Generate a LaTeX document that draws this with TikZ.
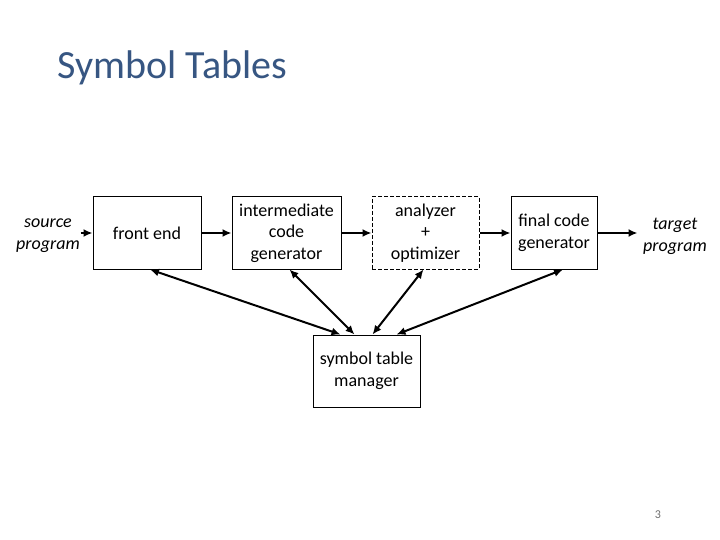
\documentclass[tikz,border=0pt]{standalone}
\usepackage{fontspec}
\setmainfont{Carlito}
\usetikzlibrary{arrows.meta}
\definecolor{titleblue}{RGB}{55,86,130}
\definecolor{pagegray}{RGB}{110,110,110}

\tikzset{
  stage/.style={draw, line width=1pt, minimum height=72pt, align=center,
    font=\fontsize{18}{21.5}\selectfont},
  ioname/.style={align=center, font=\fontsize{18}{22}\selectfont\itshape},
  flow/.style={line width=2pt, -{Latex[length=9pt,width=8pt]}},
  link/.style={line width=2pt, {Latex[length=9pt,width=8pt]}-{Latex[length=9pt,width=8pt]}}
}

\begin{document}
\begin{tikzpicture}[x=1pt, y=-1pt]

% Page
\useasboundingbox (0,0) rectangle (720,540);
\fill[white] (0,0) rectangle (720,540);

% Title
\node[anchor=west, text=titleblue, font=\fontsize{40}{46}\selectfont] (title) at (54,68) {Symbol Tables};

% Stages
\node[stage, minimum width=108pt] (front) at (147,233) {front end};
\node[stage, minimum width=109pt] (icg) at (286.5,233) {intermediate\\code\\generator};
\node[stage, minimum width=107pt, dashed, dash pattern=on 4pt off 2pt] (opt) at (425.5,233) {analyzer\\+\\optimizer};
\node[stage, minimum width=86pt] (fcg) at (554,233) {final code\\generator};
\node[stage, minimum width=107pt] (stm) at (366.5,371) {symbol table\\manager};

% Input and output
\node[ioname] (src) at (48,236) {source\\program};
\node[ioname] (tgt) at (675,236) {target\\program};

% Main flow
\draw[flow] ([xshift=-12pt]front.west) -- (front.west);
\draw[flow] (front) -- (icg);
\draw[flow] (icg) -- (opt);
\draw[flow] (opt) -- (fcg);
\draw[flow] (fcg.east) -- ([xshift=40pt]fcg.east);

% Links to the symbol table manager
\draw[link] ([xshift=3pt]front.south) -- ([xshift=-26pt]stm.north);
\draw[link] ([xshift=3pt]icg.south) -- ([xshift=-12pt]stm.north);
\draw[link] ([xshift=-2pt]opt.south) -- ([xshift=6pt]stm.north);
\draw[link] ([xshift=9pt]fcg.south) -- ([xshift=30pt]stm.north);

% Page number
\node[text=pagegray, font=\fontsize{12}{14}\selectfont] (pnum) at (658,515) {3};

\end{tikzpicture}
\end{document}
